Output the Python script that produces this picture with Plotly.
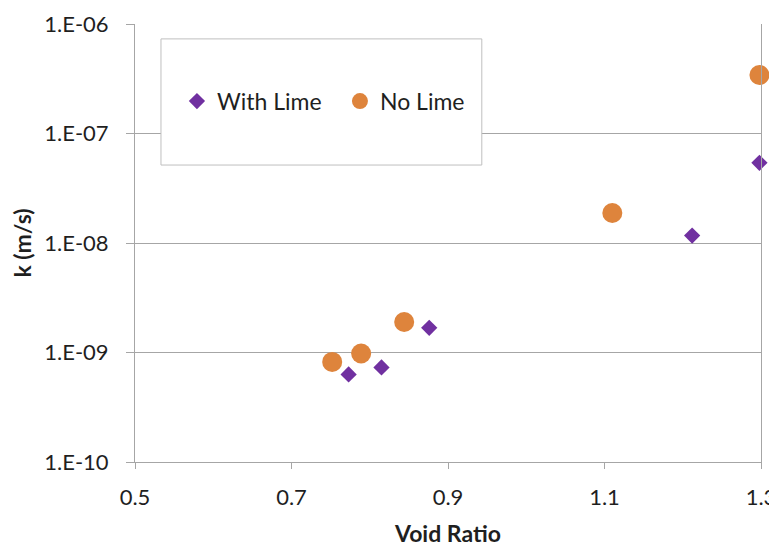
import plotly.graph_objects as go

# Data
with_lime_x = [0.773, 0.815, 0.876, 1.212, 1.298]
with_lime_k = [6.3e-10, 7.3e-10, 1.68e-9, 1.17e-8, 5.4e-8]
no_lime_x = [0.752, 0.789, 0.844, 1.110, 1.298]
no_lime_k = [8.2e-10, 9.8e-10, 1.9e-9, 1.88e-8, 3.42e-7]

x_ticks = [0.5, 0.7, 0.9, 1.1, 1.3]
y_ticks = [1e-10, 1e-9, 1e-8, 1e-7, 1e-6]
y_tick_labels = ["1.E-10", "1.E-09", "1.E-08", "1.E-07", "1.E-06"]

FONT = "Lato, Carlito, Calibri, sans-serif"
GRID = "#a6a6a6"
TXT = "#1f1f1f"

fig = go.Figure()
fig.add_trace(go.Scatter(
    x=with_lime_x, y=with_lime_k, mode="markers", name="With Lime", cliponaxis=False,
    marker=dict(symbol="diamond", size=12.5, color="#7030a0", line=dict(width=0)),
))
fig.add_trace(go.Scatter(
    x=no_lime_x, y=no_lime_k, mode="markers", name="No Lime", cliponaxis=False,
    marker=dict(symbol="circle", size=20, color="#de843c", line=dict(width=0)),
))

fig.add_shape(type="rect", xref="paper", yref="paper",
              x0=0.0415, x1=0.554, y0=0.678, y1=0.966,
              fillcolor="white", line=dict(color="#bfbfbf", width=1), layer="above")

fig.update_layout(
    width=777, height=539,
    margin=dict(l=127, r=24, t=16, b=85),
    paper_bgcolor="white", plot_bgcolor="white",
    font=dict(family=FONT, size=22, color=TXT),
    showlegend=True,
    legend=dict(orientation="h", x=0.067, y=0.824, xanchor="left", yanchor="middle",
                bgcolor="rgba(0,0,0,0)", borderwidth=0,
                font=dict(family=FONT, size=23, color=TXT),
                entrywidth=118, entrywidthmode="pixels",
                itemwidth=30, tracegroupgap=0),
    xaxis=dict(
        range=[0.5, 1.3], tickvals=x_ticks, ticktext=[str(v) for v in x_ticks],
        automargin=False,
        showgrid=False, zeroline=False,
        showline=True, linecolor=GRID, linewidth=1,
        ticks="outside", ticklen=6, tickcolor=GRID,
        ticklabelstandoff=10,
        tickfont=dict(family=FONT, size=22, color=TXT),
        title=dict(text="<b>Void Ratio</b>", font=dict(family=FONT, size=23, color=TXT), standoff=20),
    ),
    yaxis=dict(
        type="log", range=[-10, -6], tickvals=y_ticks, ticktext=y_tick_labels,
        automargin=False,
        showgrid=True, gridcolor=GRID, gridwidth=1, zeroline=False,
        showline=True, linecolor=GRID, linewidth=1, mirror=True,
        ticks="outside", ticklen=8, tickcolor=GRID,
        ticklabelstandoff=13,
        tickfont=dict(family=FONT, size=22, color=TXT),
        title=dict(text="<b>k (m/s)</b>", font=dict(family=FONT, size=23, color=TXT), standoff=10),
    ),
)

fig.write_html("out.html")
